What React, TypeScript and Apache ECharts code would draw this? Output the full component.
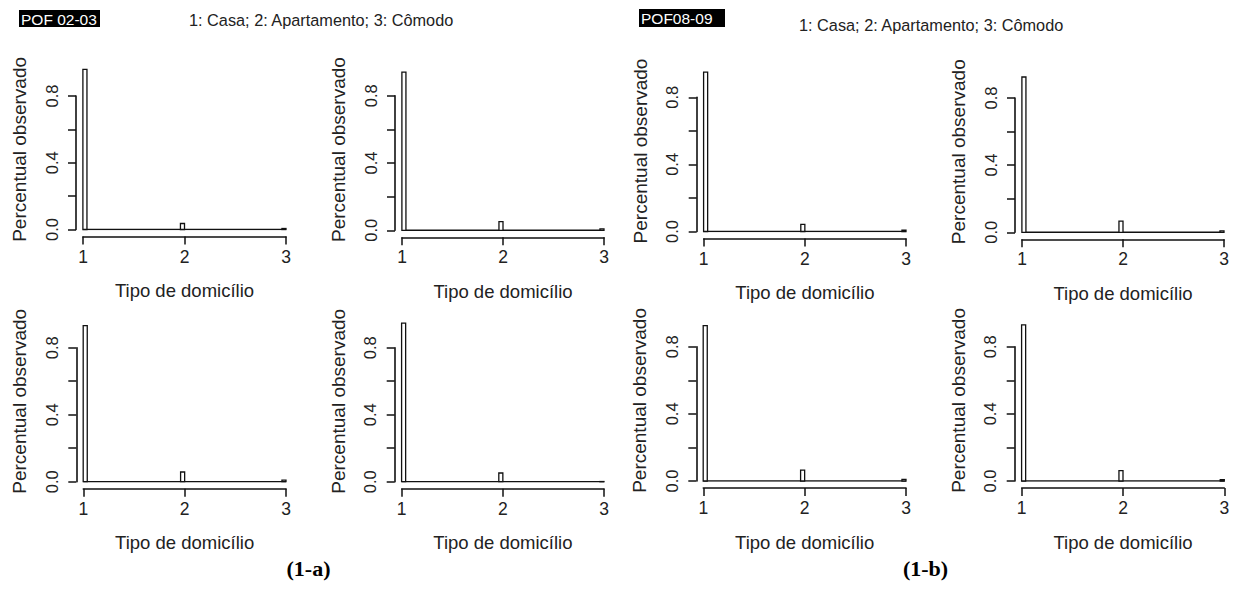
import React, { useEffect, useRef } from "react";
import * as echarts from "echarts";

// Histogram bins (type of dwelling: 1 casa, 2 apartamento, 3 cômodo)
const binStarts = [0.999, 1.96, 2.96];
const binWidth = 0.04;
const xTicks = [1, 2, 3];
const yTickLabels = ["0.0", "0.4", "0.8"];

// Observed proportions per panel — POF 2002-03
const pof0203A = [0.96, 0.036, 0.006];
const pof0203B = [0.94, 0.052, 0.008];
const pof0203C = [0.932, 0.058, 0.01];
const pof0203D = [0.947, 0.052, 0.001];
// Observed proportions per panel — POF 2008-09
const pof0809A = [0.95, 0.042, 0.008];
const pof0809B = [0.925, 0.067, 0.008];
const pof0809C = [0.925, 0.065, 0.01];
const pof0809D = [0.93, 0.062, 0.008];

const panelValues = [pof0203A, pof0203B, pof0809A, pof0809B, pof0203C, pof0203D, pof0809C, pof0809D];

// Plot boxes in pixels: x of value 1, x of value 3, y of 0.8, y of 0.0
const panelBoxes = [
  [83, 286, 96, 229.5],
  [402, 604, 95.7, 230.3],
  [703.7, 906, 97.3, 231.5],
  [1022, 1224, 98, 232.3],
  [83.3, 286, 347.7, 481.7],
  [401.7, 604, 347.7, 481.7],
  [703.3, 906, 346.7, 481],
  [1021.7, 1224.3, 346.7, 481],
];

const FONT = '"Liberation Sans", Arial, Helvetica, sans-serif';
const INK = "#111";
const AXIS_GAP = 7;

function buildOption() {
  const grid = panelBoxes.map(([x1, x3, y8, y0]) => ({
    left: x1,
    top: y8,
    width: x3 - x1,
    height: y0 - y8,
    containLabel: false,
  }));

  const xAxis = panelBoxes.map((_, i) => ({
    type: "value",
    gridIndex: i,
    min: xTicks[0],
    max: xTicks[xTicks.length - 1],
    interval: 1,
    offset: AXIS_GAP,
    axisLine: { show: true, onZero: false, lineStyle: { color: INK, width: 1.6 } },
    axisTick: { show: true, length: 8, lineStyle: { color: INK, width: 1.5 } },
    axisLabel: { fontSize: 17.5, color: "#222", margin: 11, fontFamily: FONT },
    splitLine: { show: false },
  }));

  const yAxis = panelBoxes.map((_, i) => ({
    type: "value",
    gridIndex: i,
    min: 0,
    max: 0.8,
    interval: 0.2,
    offset: AXIS_GAP,
    axisLine: { show: true, onZero: false, lineStyle: { color: INK, width: 1.6 } },
    axisTick: { show: true, length: 8, lineStyle: { color: INK, width: 1.5 } },
    axisLabel: {
      rotate: 90,
      fontSize: 16.5,
      color: "#222",
      margin: 16,
      fontFamily: FONT,
      formatter: (v: number) => {
        const k = Math.round(v * 10);
        return k % 4 === 0 ? yTickLabels[k / 4] : "";
      },
    },
    splitLine: { show: false },
  }));

  const series: any[] = [];
  panelValues.forEach((vals, i) => {
    series.push({
      type: "line",
      xAxisIndex: i,
      yAxisIndex: i,
      data: [
        [xTicks[0], 0],
        [xTicks[xTicks.length - 1], 0],
      ],
      symbol: "none",
      silent: true,
      lineStyle: { color: INK, width: 1.5 },
      z: 2,
    });
    series.push({
      type: "custom",
      xAxisIndex: i,
      yAxisIndex: i,
      clip: false,
      silent: true,
      encode: { x: [0, 1], y: 2 },
      data: binStarts.map((b, k) => [b, b + binWidth, vals[k]]),
      renderItem: (_p: any, api: any) => {
        const top = api.coord([api.value(0), api.value(2)]);
        const base = api.coord([api.value(1), 0]);
        return {
          type: "rect",
          shape: { x: top[0], y: top[1], width: base[0] - top[0], height: base[1] - top[1] },
          style: { fill: "#fff", stroke: INK, lineWidth: 1.3 },
        };
      },
      z: 3,
    });
  });

  const graphic: any[] = [];
  panelBoxes.forEach(([x1, x3, y8, y0]) => {
    const ppu = (y0 - y8) / 0.8;
    graphic.push({
      type: "text",
      x: x1 - AXIS_GAP - 56.5,
      y: y0 - 0.48 * ppu,
      rotation: Math.PI / 2,
      style: {
        text: "Percentual observado",
        font: `19px ${FONT}`,
        fill: "#222",
        align: "center",
        verticalAlign: "middle",
      },
    });
    graphic.push({
      type: "text",
      x: (x1 + x3) / 2,
      y: y0 + 61,
      style: {
        text: "Tipo de domicílio",
        font: `18.5px ${FONT}`,
        fill: "#222",
        align: "center",
        verticalAlign: "middle",
      },
    });
  });

  const headers = [
    { label: "POF 02-03", x: 19, y: 10, w: 81, h: 17, title: 189, ty: 20 },
    { label: "POF08-09", x: 639, y: 9, w: 86, h: 18, title: 799, ty: 25 },
  ];
  headers.forEach((h) => {
    graphic.push({ type: "rect", shape: { x: h.x, y: h.y, width: h.w, height: h.h }, style: { fill: "#000" } });
    graphic.push({
      type: "text",
      x: h.x + 2,
      y: h.y + h.h / 2 + 0.5,
      style: { text: h.label, font: `15.5px ${FONT}`, fill: "#fff", align: "left", verticalAlign: "middle" },
    });
    graphic.push({
      type: "text",
      x: h.title,
      y: h.ty,
      style: {
        text: "1: Casa; 2: Apartamento; 3: Cômodo",
        font: `16.3px ${FONT}`,
        fill: "#222",
        align: "left",
        verticalAlign: "middle",
      },
    });
  });

  [
    { text: "(1-a)", x: 308.5 },
    { text: "(1-b)", x: 925.5 },
  ].forEach((c) => {
    graphic.push({
      type: "text",
      x: c.x,
      y: 568,
      style: {
        text: c.text,
        font: `bold 22px "Liberation Serif", "Times New Roman", serif`,
        fill: "#000",
        align: "center",
        verticalAlign: "middle",
      },
    });
  });

  return {
    animation: false,
    backgroundColor: "#fff",
    grid,
    xAxis,
    yAxis,
    series,
    graphic,
  };
}

export default function App() {
  const ref = useRef<HTMLDivElement>(null);
  useEffect(() => {
    if (!ref.current) return;
    const chart = echarts.init(ref.current, undefined, { renderer: "svg" });
    chart.setOption(buildOption());
    return () => chart.dispose();
  }, []);
  return (
    <div
      ref={ref}
      style={{ position: "fixed", left: 0, top: 0, width: 1234, height: 589, background: "#fff" }}
    />
  );
}
